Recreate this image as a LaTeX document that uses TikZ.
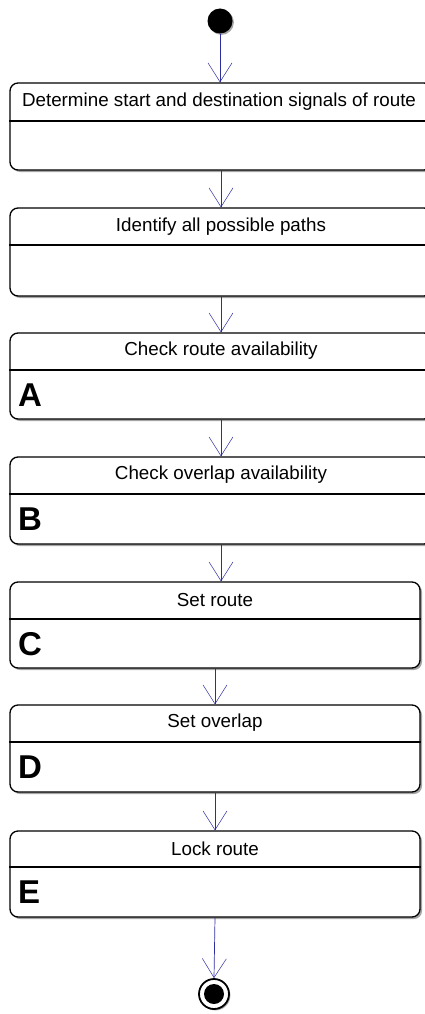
\documentclass[tikz,border=0pt]{standalone}
\usepackage{fontspec}
\setmainfont{Liberation Sans}
\usetikzlibrary{arrows.meta,shadows}
\definecolor{flow}{RGB}{45,45,160}
\definecolor{shade}{RGB}{165,165,165}
\begin{document}
\begin{tikzpicture}[x=1pt,y=-1pt,
  stbox/.style={draw=black, line width=1.3pt, rounded corners=8pt, fill=white,
    drop shadow={shadow xshift=2pt, shadow yshift=-2pt, fill=shade, opacity=1},
    inner sep=0pt},
  ttl/.style={font=\fontsize{18.8}{22}\selectfont, inner sep=0pt},
  tag/.style={font=\fontsize{33}{36}\selectfont\bfseries, inner sep=0pt, anchor=west},
  divider/.style={draw=black, line width=1.3pt},
  flowarrow/.style={draw=flow, line width=0.7pt,
    -{Straight Barb[length=19pt, width=24pt, line width=0.5pt]}}
]
\useasboundingbox (0,0) rectangle (425,1014);

% initial state
\node[circle, fill=black, minimum size=25pt, inner sep=0pt,
  drop shadow={shadow xshift=1.4pt, shadow yshift=-1.4pt, fill=shade, opacity=1}]
  (start) at (220,21) {};

% state boxes: top section 37 high, bottom section 50 high
\node[stbox, minimum width=422pt, minimum height=87pt] (b1) at (221,126.5) {};
\node[ttl] (t1) at (219,102) {Determine start and destination signals of route};
\draw[divider] (b1.west |- 0,121) -- (b1.east |- 0,121);

\node[stbox, minimum width=422pt, minimum height=88pt] (b2) at (221,252) {};
\node[ttl] (t2) at (221,227) {Identify all possible paths};
\draw[divider] (b2.west |- 0,245) -- (b2.east |- 0,245);

\node[stbox, minimum width=422pt, minimum height=86pt] (b3) at (221,376) {};
\node[ttl] (t3) at (221,351) {Check route availability};
\draw[divider] (b3.west |- 0,370) -- (b3.east |- 0,370);
\node[tag] (l3) at (18,395) {A};

\node[stbox, minimum width=422pt, minimum height=87pt] (b4) at (221,500.5) {};
\node[ttl] (t4) at (221,475) {Check overlap availability};
\draw[divider] (b4.west |- 0,494) -- (b4.east |- 0,494);
\node[tag] (l4) at (18,519) {B};

\node[stbox, minimum width=410pt, minimum height=86pt] (b5) at (215,625) {};
\node[ttl] (t5) at (215,600) {Set route};
\draw[divider] (b5.west |- 0,619) -- (b5.east |- 0,619);
\node[tag] (l5) at (18,644) {C};

\node[stbox, minimum width=410pt, minimum height=87pt] (b6) at (215,748.5) {};
\node[ttl] (t6) at (215,723) {Set overlap};
\draw[divider] (b6.west |- 0,742) -- (b6.east |- 0,742);
\node[tag] (l6) at (18,767) {D};

\node[stbox, minimum width=410pt, minimum height=86pt] (b7) at (215,874) {};
\node[ttl] (t7) at (215,849) {Lock route};
\draw[divider] (b7.west |- 0,867) -- (b7.east |- 0,867);
\node[tag] (l7) at (18,892) {E};

% final state
\node[circle, draw=black, line width=1.8pt, fill=white, minimum size=30pt, inner sep=0pt,
  drop shadow={shadow xshift=1.4pt, shadow yshift=-1.4pt, fill=shade, opacity=1}]
  (stop) at (214,994) {};
\node[circle, fill=black, minimum size=20pt, inner sep=0pt] (stopdot) at (stop.center) {};

% transitions
\draw[flowarrow] (start.south) -- (start.south |- b1.north);
\draw[flowarrow] (b1.south) -- (b1.south |- b2.north);
\draw[flowarrow] (b2.south) -- (b2.south |- b3.north);
\draw[flowarrow] (b3.south) -- (b3.south |- b4.north);
\draw[flowarrow] (b4.south) -- (b4.south |- b5.north);
\draw[flowarrow] (b5.south) -- (b5.south |- b6.north);
\draw[flowarrow] (b6.south) -- (b6.south |- b7.north);
\draw[flowarrow] (b7.south) -- (stop.north);
\end{tikzpicture}
\end{document}
